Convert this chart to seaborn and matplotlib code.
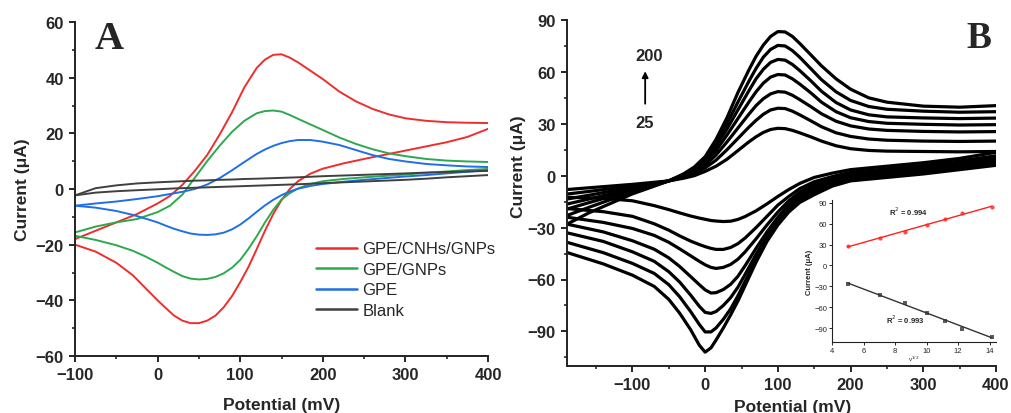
import numpy as np
import pandas as pd
import matplotlib
matplotlib.use("Agg")
import matplotlib.pyplot as plt
from matplotlib.ticker import MultipleLocator
import seaborn as sns

# ---------------- Panel A: CVs of the different electrodes ----------------
fwd_pot_a = [-100, -75, -50, -25, 0, 15, 30, 45, 60, 75, 90, 105, 120, 130,
             140, 150, 160, 170, 185, 200, 220, 240, 260, 280, 300, 325, 350,
             375, 400]
rev_pot_a = [400, 375, 350, 325, 300, 275, 250, 225, 200, 185, 170, 160, 150,
             140, 130, 120, 110, 100, 90, 80, 70, 60, 50, 40, 30, 20, 10, 0,
             -15, -30, -50, -75, -100]

cnh_gnp_fwd = [-18, -15, -12, -9, -5.2, -2.5, 1.5, 6.5, 12.2, 19.5, 27.5, 36.5,
               43.5, 46.5, 48.2, 48.4, 47.2, 45.5, 42.5, 39.5, 35, 31.5, 28.8,
               26.8, 25.4, 24.5, 24, 23.8, 23.7]
cnh_gnp_rev = [21.6, 18.7, 16.8, 15.3, 13.8, 12.3, 10.8, 9.2, 7.3, 5.5, 2.8, 0,
               -4, -9, -15, -21.6, -28, -33.5, -38.5, -42.5, -45.5, -47.3,
               -48.2, -48.2, -47.3, -45.5, -42.8, -40, -35.5, -31, -26.5,
               -22.5, -20]

gnp_fwd = [-15.6, -13.5, -12, -10.8, -8.3, -6, -2, 4, 10, 15.5, 20.5, 24.5,
           27.2, 28, 28.2, 27.8, 26.6, 25.2, 23.2, 21.2, 18.5, 16.2, 14.3, 12.8,
           11.8, 10.8, 10.2, 9.9, 9.7]
gnp_rev = [7.2, 6.8, 6.3, 5.8, 5.2, 4.7, 4.2, 3.6, 2.8, 1.8, 0.2, -1.5, -3.8,
           -7.5, -12, -17, -21.5, -25.5, -28.3, -30.3, -31.6, -32.3, -32.5,
           -32.2, -31.3, -29.8, -28.2, -26.5, -24.2, -22.2, -20.2, -18.3, -16.8]

gpe_fwd = [-6, -5.2, -4.5, -3.6, -2.6, -1.8, -1, 0, 1.6, 3.9, 6.7, 9.7, 12.6,
           14.2, 15.5, 16.5, 17.2, 17.6, 17.6, 17, 15.8, 14, 12.2, 10.8, 9.9, 9,
           8.5, 8.1, 7.9]
gpe_rev = [6.8, 6.2, 5.6, 5, 4.5, 3.9, 3.3, 2.6, 1.8, 1.1, 0.1, -0.9, -2.2,
           -3.9, -5.9, -8.2, -10.6, -12.8, -14.5, -15.7, -16.3, -16.5, -16.4,
           -16, -15.2, -14.3, -13.2, -12, -10.6, -9.3, -7.9, -6.7, -6]

blank_fwd = [-2.3, 0.3, 1.3, 2, 2.4, 2.6, 2.8, 3, 3.1, 3.3, 3.4, 3.6, 3.7, 3.8,
             3.9, 4, 4.1, 4.2, 4.4, 4.6, 4.8, 5, 5.2, 5.4, 5.6, 5.9, 6.1, 6.3,
             6.5]
blank_rev = [5, 4.6, 4.2, 3.7, 3.3, 3, 2.7, 2.4, 2.1, 1.9, 1.7, 1.6, 1.5, 1.4,
             1.3, 1.2, 1.1, 1, 0.9, 0.8, 0.7, 0.6, 0.5, 0.4, 0.3, 0.2, 0.05,
             -0.1, -0.3, -0.5, -0.8, -1.3, -2.3]

electrodes = ["GPE/CNHs/GNPs", "GPE/GNPs", "GPE", "Blank"]
electrode_colors = ["#EF2D2D", "#2EA84E", "#1F6FE6", "#404040"]
electrode_fwd = [cnh_gnp_fwd, gnp_fwd, gpe_fwd, blank_fwd]
electrode_rev = [cnh_gnp_rev, gnp_rev, gpe_rev, blank_rev]

# ---------------- Panel B: scan-rate series ----------------
scan_rates = [25, 50, 75, 100, 125, 150, 200]
fwd_pot_b = [-190, -160, -130, -100, -75, -50, -30, -15, 0, 15, 30, 45, 60, 70,
             80, 90, 100, 110, 120, 130, 145, 160, 180, 200, 225, 250, 300,
             350, 400]
rev_pot_b = [400, 350, 300, 250, 200, 175, 150, 130, 115, 100, 85, 70, 55, 45,
             35, 25, 15, 8, 0, -8, -20, -35, -50, -70, -100, -140, -190]

fwd_b = [
    [-8, -7, -6, -5, -4, -3, -1.5, 0, 2.5, 5.5, 9.5, 14.5, 19.5, 22.5, 25,
     26.7, 27.4, 27.2, 26.2, 24.8, 22.5, 20, 17.3, 15.6, 14.6, 14.2, 14, 13.8,
     14],
    [-10.6, -9.1, -7.5, -6, -4.5, -3, -1, 1, 4.5, 9, 15, 21.5, 28, 32, 35.5,
     38, 39, 38.8, 37.3, 35.2, 31.8, 28.3, 24.8, 22.7, 21.2, 20.5, 20, 19.8,
     20],
    [-13.5, -11.3, -9, -7, -5, -3, -0.5, 2, 6, 12, 19.5, 27.5, 35.5, 40.5,
     44.5, 47.3, 48.6, 48.3, 46.5, 44, 40, 35.8, 31.5, 28.8, 27, 26.2, 25.6,
     25.3, 25.5],
    [-16.4, -13.5, -10.5, -8, -5.5, -3, 0, 3, 7.5, 14.5, 23.5, 33, 42.5, 48.5,
     53.5, 57, 58.5, 58.2, 56, 53, 48, 42.5, 37, 33.5, 31.3, 30.3, 29.7, 29.3,
     29.5],
    [-19.3, -15.6, -12, -8.8, -5.9, -3, 0.3, 3.7, 8.7, 16.8, 27, 38, 49, 56,
     61.5, 65.5, 67.2, 66.8, 64.3, 60.8, 55, 48.8, 42.3, 38, 35.2, 34, 33.4,
     33, 33.3],
    [-23, -18.3, -13.8, -9.7, -6.3, -3, 0.6, 4.3, 9.8, 18.8, 30, 42.5, 54.5,
     62, 68.5, 73, 75.3, 75, 72.3, 68.5, 62, 55.5, 48.5, 43.5, 40, 38.4, 37.3,
     36.7, 37],
    [-28, -21.5, -16, -10.5, -6.8, -3, 1, 5, 11, 21, 33.5, 48, 61, 69, 75.5,
     80.5, 83.3, 83.1, 80.5, 76.5, 70, 63.5, 56, 50, 45, 42.5, 40.2, 39.6,
     40.5],
]
rev_b = [
    [13.5, 10, 7.5, 5.5, 3.5, 1.5, -1, -4.5, -8, -12, -16.3, -20.3, -23.6,
     -25.3, -26.3, -26.5, -26.2, -25.9, -25.2, -24.5, -23.3, -21.5, -19.6,
     -17.3, -14.5, -13, -12.5],
    [11.5, 8.5, 6, 4, 2, -0.5, -3.5, -7.5, -12, -17, -23.5, -30, -36, -39.3,
     -41.5, -42.6, -42.6, -42, -41, -39.8, -37.8, -34.8, -31.5, -27.8, -23.5,
     -20.8, -19],
    [10, 7.5, 5, 3, 1, -2, -5, -9.5, -14.5, -21, -28.5, -36.5, -44, -48.3,
     -51.3, -53, -53.6, -53, -51.5, -49.5, -46.3, -42.3, -38.5, -34.5, -30.5,
     -27, -24],
    [9, 6.5, 4, 2, 0, -3, -6.5, -11, -16.5, -24, -32.5, -42, -52, -58.2,
     -62.8, -65.8, -67.6, -67.8, -66, -63, -58.3, -52.5, -47.5, -42.5, -37.6,
     -32.5, -28],
    [8, 5.5, 3, 1, -1, -4, -8, -12.5, -18, -26, -35, -45.5, -57, -64.5, -70.5,
     -75, -78.5, -79.6, -79, -75.5, -69, -61.5, -55.5, -49.5, -44, -38, -33],
    [7, 4.5, 2, 0, -2, -5, -9.5, -14, -19.5, -27, -36.5, -48, -61, -69.5, -77,
     -83, -88, -90.3, -90.3, -86, -78.5, -70, -63, -56.5, -50.7, -44.5, -38.5],
    [6, 3.5, 1, -1, -3, -6, -11, -15.5, -21, -28.5, -38, -50, -63.5, -72.5,
     -80.5, -88, -95, -99.5, -102, -98, -89, -79.5, -71.5, -64, -57.5, -51,
     -44.4],
]

# peak currents (µA) used for the inset
anodic_peak = [27.4, 39, 48.6, 58.5, 67.2, 75.3, 83.4]
cathodic_peak = [-26.6, -42.8, -53.6, -67.9, -79.7, -90.7, -102.3]
r2_anodic = "0.994"
r2_cathodic = "0.993"

# ---------------- assemble long tables ----------------
rows_a = []
for name, f, r in zip(electrodes, electrode_fwd, electrode_rev):
    for p, c in zip(fwd_pot_a, f):
        rows_a.append((name, name + "-f", p, c))
    for p, c in zip(rev_pot_a, r):
        rows_a.append((name, name + "-r", p, c))
df_a = pd.DataFrame(rows_a, columns=["electrode", "trace", "potential", "current"])

rows_b = []
for rate, f, r in zip(scan_rates, fwd_b, rev_b):
    for p, c in zip(fwd_pot_b, f):
        rows_b.append((rate, f"{rate}-f", p, c))
    for p, c in zip(rev_pot_b, r):
        rows_b.append((rate, f"{rate}-r", p, c))
df_b = pd.DataFrame(rows_b, columns=["rate", "trace", "potential", "current"])

df_in = pd.DataFrame({"sqrt_rate": np.sqrt(scan_rates),
                      "ipa": anodic_peak, "ipc": cathodic_peak})

# ---------------- style ----------------
sns.set_style("ticks")
plt.rcParams["font.family"] = ["Liberation Sans", "DejaVu Sans"]
plt.rcParams["axes.linewidth"] = 1.4
plt.rcParams["xtick.major.width"] = 1.4
plt.rcParams["ytick.major.width"] = 1.4
plt.rcParams["xtick.minor.width"] = 1.2
plt.rcParams["ytick.minor.width"] = 1.2
plt.rcParams["xtick.major.size"] = 4.5
plt.rcParams["ytick.major.size"] = 4.5
plt.rcParams["xtick.minor.size"] = 2.5
plt.rcParams["ytick.minor.size"] = 2.5
plt.rcParams["axes.edgecolor"] = "#222222"
plt.rcParams["lines.solid_joinstyle"] = "round"

W, H = 1011, 414
fig = plt.figure(figsize=(W / 100, H / 100), dpi=100)


def box(l, t, r, b):
    return [l / W, 1 - b / H, (r - l) / W, (b - t) / H]


label_font = dict(fontsize=12.5, fontweight="bold")

# ---------------- Panel A ----------------
axA = fig.add_axes(box(75, 23, 488, 357))
sns.lineplot(data=df_a, x="potential", y="current", hue="electrode",
             hue_order=electrodes, palette=electrode_colors, units="trace",
             estimator=None, sort=False, linewidth=1.4, ax=axA)
axA.set_xlim(-100, 400)
axA.set_ylim(-60, 60)
axA.xaxis.set_major_locator(MultipleLocator(100))
axA.xaxis.set_minor_locator(MultipleLocator(50))
axA.yaxis.set_major_locator(MultipleLocator(20))
axA.yaxis.set_minor_locator(MultipleLocator(10))
sns.despine(ax=axA)
axA.set_xlabel("Potential (mV)", **label_font)
axA.set_ylabel("Current (μA)", **label_font)
axA.xaxis.set_label_coords(0.501, -0.124)
axA.yaxis.set_label_coords(-0.108, 0.5)
for lab in axA.get_xticklabels() + axA.get_yticklabels():
    lab.set_fontsize(12)
    lab.set_fontweight("bold")
handles, labels = axA.get_legend_handles_labels()
axA.legend(handles, labels, loc="upper left", bbox_to_anchor=(0.583, 0.343),
           frameon=False, fontsize=12, handlelength=2.45, handletextpad=0.35,
           labelspacing=0.33, borderaxespad=0, borderpad=0)
for ln in axA.get_legend().get_lines():
    ln.set_linewidth(1.8)

fig.text(95 / W, 1 - 49 / H, "A", family="Liberation Serif",
         fontweight="bold", fontsize=29, ha="left", va="baseline")

# ---------------- Panel B ----------------
axB = fig.add_axes(box(567, 21, 996, 367))
sns.lineplot(data=df_b, x="potential", y="current", units="trace",
             estimator=None, sort=False, color="black", linewidth=2.3,
             legend=False, ax=axB)
axB.set_xlim(-190, 400)
axB.set_ylim(-110, 90)
axB.xaxis.set_major_locator(MultipleLocator(100))
axB.xaxis.set_minor_locator(MultipleLocator(50))
axB.yaxis.set_major_locator(MultipleLocator(30))
axB.yaxis.set_minor_locator(MultipleLocator(15))
sns.despine(ax=axB)
axB.set_xlabel("Potential (mV)", **label_font)
axB.set_ylabel("Current (μA)", **label_font)
axB.xaxis.set_label_coords(0.527, -0.094)
axB.yaxis.set_label_coords(-0.095, 0.578)
for lab in axB.get_xticklabels() + axB.get_yticklabels():
    lab.set_fontsize(12)
    lab.set_fontweight("bold")

axB.annotate("", xy=(-82.5, 62), xytext=(-82.5, 40),
             arrowprops=dict(arrowstyle="-|>", color="black", lw=1.3,
                             mutation_scale=9))
axB.text(-77, 69.5, str(scan_rates[-1]), ha="center", va="center",
         fontsize=12, fontweight="bold")
axB.text(-83, 31, str(scan_rates[0]), ha="center", va="center",
         fontsize=12, fontweight="bold")

fig.text(966 / W, 1 - 48 / H, "B", family="Liberation Serif",
         fontweight="bold", fontsize=27, ha="left", va="baseline")

# ---------------- Inset: peak current vs sqrt(scan rate) ----------------
axI = fig.add_axes(box(832, 201, 996, 343))
sns.regplot(data=df_in, x="sqrt_rate", y="ipa", ci=None, color="#FF2020",
            marker="o", scatter_kws=dict(s=9, linewidths=0),
            line_kws=dict(lw=1.0), ax=axI)
sns.regplot(data=df_in, x="sqrt_rate", y="ipc", ci=None, color="#333333",
            marker="s", scatter_kws=dict(s=8, linewidths=0),
            line_kws=dict(lw=1.0), ax=axI)
axI.set_xlim(4, 14.4)
axI.set_ylim(-110, 94)
axI.xaxis.set_major_locator(MultipleLocator(2))
axI.yaxis.set_major_locator(MultipleLocator(30))
axI.patch.set_alpha(0)
sns.despine(ax=axI)
for sp in axI.spines.values():
    sp.set_linewidth(0.8)
axI.tick_params(which="major", length=2, width=0.7, labelsize=5.5, pad=1.5)
axI.set_xlabel("v$^{1/2}$", fontsize=4.5, labelpad=0)
axI.set_ylabel("Current (μA)", fontsize=5.5, fontweight="bold", labelpad=1)
axI.text(7.6, 72, f"R$^2$ = {r2_anodic}", fontsize=5.5, fontweight="bold")
axI.text(7.4, -82, f"R$^2$ = {r2_cathodic}", fontsize=5.5, fontweight="bold")

fig.savefig("out.png", dpi=100)
